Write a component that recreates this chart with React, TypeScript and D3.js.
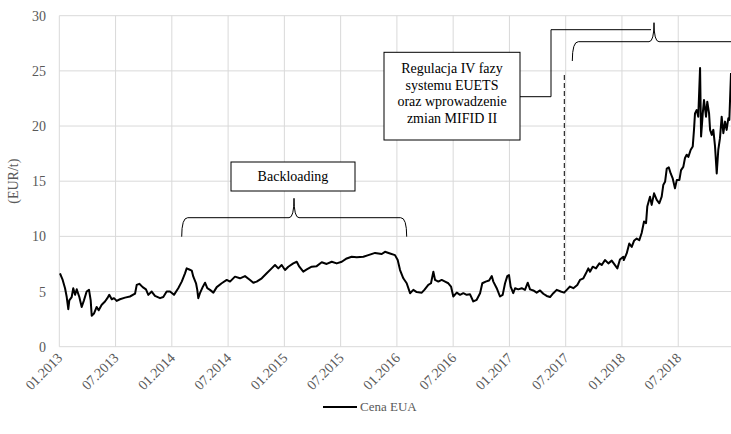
import React from 'react';
import * as d3 from 'd3';

// decimal-year time points and EUA price (EUR/t)
const years = [
  2013.006, 2013.030, 2013.051, 2013.066, 2013.080, 2013.089, 2013.110, 2013.124, 2013.140, 2013.155,
  2013.178, 2013.199, 2013.219, 2013.243, 2013.264, 2013.279, 2013.288, 2013.308, 2013.332, 2013.350,
  2013.377, 2013.406, 2013.427, 2013.444, 2013.466, 2013.486, 2013.510, 2013.539, 2013.584, 2013.628,
  2013.673, 2013.688, 2013.711, 2013.741, 2013.770, 2013.791, 2013.821, 2013.850, 2013.895, 2013.924,
  2013.954, 2013.984, 2014.019, 2014.057, 2014.088, 2014.117, 2014.132, 2014.155, 2014.177, 2014.191,
  2014.215, 2014.226, 2014.235, 2014.250, 2014.274, 2014.295, 2014.315, 2014.339, 2014.369, 2014.399,
  2014.443, 2014.488, 2014.517, 2014.561, 2014.606, 2014.650, 2014.695, 2014.724, 2014.754, 2014.799,
  2014.843, 2014.887, 2014.917, 2014.946, 2014.976, 2015.006, 2015.035, 2015.079, 2015.110, 2015.133,
  2015.168, 2015.199, 2015.243, 2015.287, 2015.332, 2015.376, 2015.421, 2015.465, 2015.510, 2015.554,
  2015.598, 2015.643, 2015.702, 2015.746, 2015.806, 2015.865, 2015.894, 2015.939, 2015.983, 2016.007,
  2016.028, 2016.057, 2016.087, 2016.117, 2016.146, 2016.176, 2016.221, 2016.244, 2016.279, 2016.303,
  2016.324, 2016.339, 2016.368, 2016.398, 2016.428, 2016.457, 2016.481, 2016.501, 2016.532, 2016.561,
  2016.590, 2016.620, 2016.650, 2016.679, 2016.709, 2016.739, 2016.759, 2016.789, 2016.819, 2016.843,
  2016.857, 2016.887, 2016.916, 2016.940, 2016.961, 2016.981, 2016.996, 2017.011, 2017.034, 2017.050,
  2017.079, 2017.109, 2017.138, 2017.163, 2017.183, 2017.212, 2017.242, 2017.272, 2017.301, 2017.331,
  2017.361, 2017.390, 2017.420, 2017.456, 2017.486, 2017.514, 2017.538, 2017.568, 2017.603, 2017.627,
  2017.657, 2017.680, 2017.701, 2017.716, 2017.740, 2017.769, 2017.799, 2017.820, 2017.849, 2017.879,
  2017.909, 2017.938, 2017.959, 2017.982, 2018.012, 2018.016, 2018.042, 2018.065, 2018.087, 2018.107,
  2018.131, 2018.154, 2018.175, 2018.196, 2018.214, 2018.225, 2018.249, 2018.264, 2018.285, 2018.309,
  2018.332, 2018.353, 2018.367, 2018.383, 2018.398, 2018.416, 2018.433, 2018.451, 2018.471, 2018.487,
  2018.510, 2018.525, 2018.545, 2018.560, 2018.575, 2018.590, 2018.611, 2018.629, 2018.640, 2018.649,
  2018.664, 2018.678, 2018.694, 2018.703, 2018.718, 2018.729, 2018.747, 2018.758, 2018.774, 2018.783,
  2018.798, 2018.812, 2018.827, 2018.842, 2018.856, 2018.871, 2018.886, 2018.901, 2018.916, 2018.930,
  2018.945, 2018.954, 2018.969,
];
const prices = [
  6.65, 6.05, 5.3, 4.5, 3.4, 4.2, 4.5, 5.3, 4.7, 5.2,
  4.5, 3.6, 4.2, 5.0, 5.15, 4.2, 2.8, 3.0, 3.6, 3.3,
  3.8, 4.1, 4.4, 4.7, 4.3, 4.4, 4.15, 4.3, 4.45, 4.55,
  4.8, 5.6, 5.7, 5.4, 5.2, 4.7, 5.0, 4.6, 4.4, 4.5,
  5.0, 5.0, 4.7, 5.3, 5.9, 6.65, 7.1, 7.0, 6.9, 6.35,
  5.75, 5.15, 4.4, 4.85, 5.4, 5.8, 5.3, 5.15, 4.9, 5.4,
  5.75, 6.05, 5.9, 6.35, 6.2, 6.4, 6.05, 5.8, 5.9, 6.2,
  6.65, 7.1, 7.4, 7.1, 7.4, 6.95, 7.25, 7.55, 7.7, 7.25,
  6.8, 7.0, 7.25, 7.3, 7.65, 7.5, 7.7, 7.55, 7.7, 8.0,
  8.15, 8.1, 8.15, 8.3, 8.5, 8.4, 8.6, 8.45, 8.3, 7.85,
  6.95, 6.2, 5.75, 4.85, 5.15, 4.95, 4.9, 5.15, 5.6, 5.75,
  6.8, 6.05, 5.9, 6.05, 5.9, 5.75, 5.45, 4.55, 4.9, 4.7,
  4.85, 4.7, 4.75, 4.1, 4.25, 4.85, 5.75, 5.9, 6.0, 6.4,
  5.9, 5.3, 4.55, 4.7, 5.75, 6.4, 6.5, 5.45, 4.85, 5.3,
  5.2, 5.3, 5.15, 5.8, 5.2, 5.1, 4.9, 5.1, 4.8, 4.6,
  4.5, 4.85, 5.15, 5.0, 4.9, 5.2, 5.45, 5.3, 5.6, 6.05,
  6.2, 6.65, 7.1, 6.8, 7.25, 7.1, 7.55, 7.4, 7.85, 7.55,
  7.8, 7.4, 7.1, 7.9, 8.15, 7.85, 8.45, 9.35, 9.05, 9.6,
  9.8, 9.65, 10.3, 11.35, 11.2, 12.7, 13.6, 12.85, 13.9, 13.3,
  13.0, 13.6, 14.65, 14.95, 16.15, 16.25, 15.7, 15.25, 14.35, 15.1,
  15.1, 16.0, 16.3, 17.1, 17.4, 17.2, 17.85, 18.15, 19.65, 21.15,
  21.45, 20.85, 25.25, 19.05, 21.15, 22.35, 20.85, 22.2, 21.15, 19.65,
  19.2, 19.65, 18.15, 15.7, 17.85, 18.9, 20.85, 19.35, 20.4, 19.65,
  20.7, 20.55, 24.8,
];

const yTicks = [0, 5, 10, 15, 20, 25, 30];
const xTickYears = [2013, 2013.5, 2014, 2014.5, 2015, 2015.5, 2016, 2016.5, 2017, 2017.5, 2018, 2018.5];
const xTickLabels = ['01.2013', '07.2013', '01.2014', '07.2014', '01.2015', '07.2015', '01.2016', '07.2016', '01.2017', '07.2017', '01.2018', '07.2018'];
const seriesName = 'Cena EUA';
const yTitle = '(EUR/t)';
const note1 = 'Backloading';
const note2 = ['Regulacja IV fazy', 'systemu EUETS', 'oraz wprowadzenie', 'zmian MIFID II'];

const W = 731, H = 434;
const FONT = "'Liberation Serif', 'DejaVu Serif', serif";

export default function App() {
  const x = d3.scaleLinear().domain([2013, 2019]).range([59.3, 734.5]);
  const y = d3.scaleLinear().domain([0, 30]).range([346.7, 15.7]);
  const pts = years.map((t, i) => [t, prices[i]] as [number, number]);
  const line = d3.line<[number, number]>().x(d => x(d[0])).y(d => y(d[1]));
  const x0 = x(2013), x1 = W;

  const brace = (xa: number, xb: number, xt: number, yb: number, ye: number, yt: number) =>
    `M${xa},${ye} Q${xa},${yb} ${xa + 6},${yb} L${xt - 5},${yb} Q${xt},${yb} ${xt},${yt} ` +
    `Q${xt},${yb} ${xt + 5},${yb} L${xb - 6},${yb} Q${xb},${yb} ${xb},${ye}`;

  const ts = { fontFamily: FONT } as React.CSSProperties;

  return (
    <>
      <style>{`body{margin:0} svg text{font-family:'Liberation Serif','DejaVu Serif',serif}`}</style>
      <svg width={W} height={H} style={{ display: 'block', background: '#fff', fontFamily: FONT }}>
        {yTicks.map(v => (
          <line key={'h' + v} x1={x0} x2={x1} y1={y(v)} y2={y(v)} stroke="#d9d9d9" strokeWidth={1} />
        ))}
        {xTickYears.map(t => (
          <line key={'v' + t} x1={x(t)} x2={x(t)} y1={y(30)} y2={y(0)} stroke="#d9d9d9" strokeWidth={1} />
        ))}
        {yTicks.map(v => (
          <text key={'yl' + v} style={ts} x={46} y={y(v) + 5} textAnchor="end" fontSize={14} fill="#595959">{v}</text>
        ))}
        {xTickYears.map((t, i) => (
          <text key={'xl' + t} style={ts} transform={`translate(${x(t) + 4},${y(0) + 12}) rotate(-45)`} textAnchor="end" fontSize={14} fill="#595959">{xTickLabels[i]}</text>
        ))}
        <text style={ts} transform={`translate(18,${y(15)}) rotate(-90)`} textAnchor="middle" fontSize={14} fill="#595959">{yTitle}</text>

        <path d={line(pts) || ''} fill="none" stroke="#000" strokeWidth={2} strokeLinejoin="round" />

        <rect x={231} y={162} width={124} height={29} fill="#fff" stroke="#000" strokeWidth={1} />
        <text style={ts} x={293} y={181} textAnchor="middle" fontSize={14} fill="#000">{note1}</text>
        <path d={brace(181.7, 406.7, 294, 217.7, 236.7, 198.3)} fill="none" stroke="#000" strokeWidth={1} />

        <line x1={564.3} x2={564.3} y1={75} y2={280} stroke="#000" strokeWidth={1} strokeDasharray="5,3" />
        <path d={brace(572.3, 760, 654, 41.7, 61, 22.7)} fill="none" stroke="#000" strokeWidth={1} />
        <path d="M520,96.7 L551,96.7 L551,29.7 L651,29.7" fill="none" stroke="#000" strokeWidth={1} />
        <rect x={384} y={52.3} width={136} height={87.7} fill="#fff" stroke="#000" strokeWidth={1} />
        {note2.map((s, i) => (
          <text key={s} style={ts} x={452} y={73 + i * 16.7} textAnchor="middle" fontSize={14} fill="#000">{s}</text>
        ))}

        <line x1={323} x2={357} y1={407} y2={407} stroke="#000" strokeWidth={2} />
        <text style={ts} x={360} y={411} fontSize={13} fill="#595959">{seriesName}</text>
      </svg>
    </>
  );
}
